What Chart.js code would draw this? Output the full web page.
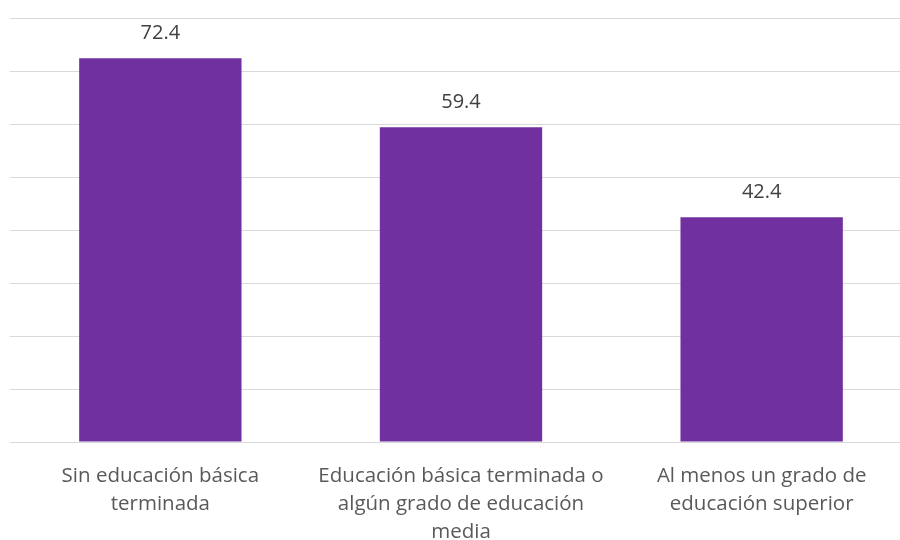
<!DOCTYPE html>
<html>
<head>
<meta charset="utf-8">
<script src="https://cdn.jsdelivr.net/npm/chart.js@4"></script>
<style>
  html, body { margin: 0; padding: 0; background: #fff; overflow: hidden; }
  #wrap { width: 912px; height: 540px; }
</style>
</head>
<body>
<div id="wrap"><canvas id="chart"></canvas></div>
<script>
const ctx = document.getElementById('chart').getContext('2d');

let categories = [
    ['Sin educación básica', 'terminada'],
    ['Educación básica terminada o', 'algún grado de educación', 'media'],
    ['Al menos un grado de', 'educación superior']
]
let values = [72.4, 59.4, 42.4]
let yTicks = [0, 10, 20, 30, 40, 50, 60, 70, 80]

const fontFamily = "'Open Sans', 'Liberation Sans', sans-serif"

// value labels above each bar
const valueLabels = {
    id: 'valueLabels',
    afterDatasetsDraw(chart) {
        const c = chart.ctx
        const meta = chart.getDatasetMeta(0)
        c.save()
        c.font = '20px ' + fontFamily
        c.fillStyle = '#404040'
        c.textAlign = 'center'
        c.textBaseline = 'alphabetic'
        meta.data.forEach((bar, i) => {
            c.fillText(values[i].toFixed(1), bar.x, bar.y - 19)
        })
        c.restore()
    }
}

const dataChart = new Chart(ctx, {
    type: 'bar',
    data: {
        labels: categories,
        datasets: [
            {
                data: values,
                backgroundColor: '#7030A0',
                borderWidth: 0,
                categoryPercentage: 1,
                barPercentage: 0.54,
            }
        ]
    },
    options: {
        responsive: true,
        maintainAspectRatio: false,
        animation: false,
        layout: {
            padding: { top: 18, left: 10, right: 0, bottom: 0 }
        },
        plugins: {
            legend: { display: false },
            tooltip: { enabled: false }
        },
        scales: {
            x: {
                afterFit(axis) {
                    axis.height = 98
                },
                grid: { display: false, drawTicks: false },
                border: { display: false },
                ticks: {
                    color: '#595959',
                    font: { family: fontFamily, size: 20.5, lineHeight: 1.37 },
                    padding: 20,
                    maxRotation: 0,
                    autoSkip: false
                }
            },
            y: {
                min: yTicks[0],
                max: yTicks[yTicks.length - 1],
                afterBuildTicks(axis) {
                    axis.ticks = yTicks.map(v => ({ value: v }))
                },
                grid: { color: '#d9d9d9', lineWidth: 1, drawTicks: false },
                border: { display: false },
                ticks: { display: false }
            }
        }
    },
    plugins: [valueLabels]
});
</script>
</body>
</html>
